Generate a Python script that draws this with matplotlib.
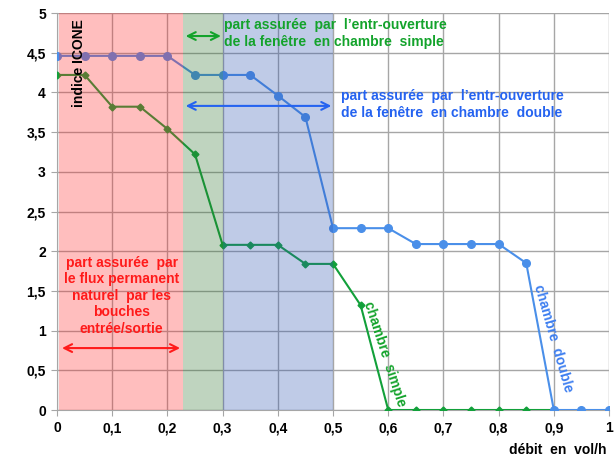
import matplotlib.pyplot as plt
import numpy as np

plt.rcParams["font.family"] = ["Liberation Sans", "DejaVu Sans"]

# débit (vol/h) and indice ICONE
debit_double = [0, 0.05, 0.1, 0.15, 0.2, 0.25, 0.3, 0.35, 0.4, 0.45, 0.5,
                0.55, 0.6, 0.65, 0.7, 0.75, 0.8, 0.85, 0.9, 0.95, 1.0]
icone_double = [4.46, 4.46, 4.46, 4.46, 4.46, 4.22, 4.22, 4.22, 3.96, 3.69, 2.29,
                2.29, 2.29, 2.09, 2.09, 2.09, 2.09, 1.85, 0, 0, 0]

debit_simple = [0, 0.05, 0.1, 0.15, 0.2, 0.25, 0.3, 0.35, 0.4, 0.45, 0.5,
                0.55, 0.6, 0.65, 0.7, 0.75, 0.8, 0.85, 0.9]
icone_simple = [4.22, 4.22, 3.82, 3.82, 3.54, 3.22, 2.08, 2.08, 2.08, 1.84, 1.84,
                1.32, 0, 0, 0, 0, 0, 0, 0]

# zones: bouches / entr-ouverture simple / entr-ouverture double
zone_bounds = [0.004, 0.228, 0.3, 0.5]
zone_colors = ["#ff2a2a", "#2d732d", "#2d55b2"]

xticks = np.arange(0, 1.01, 0.1)
yticks = np.arange(0, 5.01, 0.5)

fig = plt.figure(figsize=(6.15, 4.58), dpi=100)
ax = fig.add_axes([0.0927, 0.1048, 0.8976, 0.8668])

ax.plot(debit_simple, icone_simple, "-D", color="#12a03a", ms=3.5, lw=1.5, zorder=3)
ax.plot(debit_double, icone_double, "-o", color="#4a8fe9", ms=5.5, lw=1.5, zorder=4)

# translucent shading laid over the curves, as in the original
for i, c in enumerate(zone_colors):
    ax.axvspan(zone_bounds[i], zone_bounds[i + 1], color=c, alpha=0.3, lw=0, zorder=5)

ax.set_xlim(0, 1)
ax.set_ylim(0, 5)
ax.set_xticks(xticks)
ax.set_yticks(yticks)
ax.set_xticklabels([f"{v:g}".replace(".", ",") for v in xticks], fontsize=10, fontweight="bold")
ax.set_yticklabels([f"{v:g}".replace(".", ",") for v in yticks], fontsize=10, fontweight="bold")
ax.grid(True, color="#a6a6a6", lw=1, zorder=0)
ax.set_axisbelow(True)
ax.tick_params(length=4, color="#a6a6a6", pad=4)
ax.spines[["top", "right"]].set_visible(False)
for s in ["left", "bottom"]:
    ax.spines[s].set_color("#a6a6a6")

ax.text(0.04, 4.37, "indice ICONE", rotation=90, ha="center", va="center",
        fontsize=10, fontweight="bold", zorder=6)
ax.text(0.995, -0.51, "débit  en  vol/h", ha="right", va="center",
        fontsize=10, fontweight="bold", clip_on=False)

arrow = dict(arrowstyle="<->", lw=1.5, mutation_scale=14)

# green: chambre simple
green = "#13a32b"
ax.annotate("", xy=(0.228, 4.71), xytext=(0.302, 4.71),
            arrowprops=dict(arrow, color=green), zorder=6)
ax.text(0.303, 4.74, "part assurée  par  l’entr-ouverture\nde la fenêtre  en chambre  simple",
        color=green, fontsize=10, fontweight="bold", ha="left", va="center",
        linespacing=1.3, zorder=6)

# blue: chambre double
blue = "#2563f0"
ax.annotate("", xy=(0.228, 3.83), xytext=(0.502, 3.83),
            arrowprops=dict(arrow, color=blue), zorder=6)
ax.text(0.515, 3.85, "part assurée  par  l’entr-ouverture\nde la fenêtre  en chambre  double",
        color=blue, fontsize=10, fontweight="bold", ha="left", va="center",
        linespacing=1.25, zorder=6)

# red: bouches
red = "#ff1a1a"
ax.annotate("", xy=(0.004, 0.78), xytext=(0.228, 0.78),
            arrowprops=dict(arrow, color=red), zorder=6)
ax.text(0.117, 1.44, "part assurée  par\nle flux permanent\nnaturel  par les\nbouches\nentrée/sortie",
        color=red, fontsize=10, fontweight="bold", ha="center", va="center",
        linespacing=1.22, zorder=6)

ax.text(0.594, 0.70, "chambre  simple", rotation=-72, color=green, fontsize=10,
        fontweight="bold", ha="center", va="center", rotation_mode="anchor", zorder=6)
ax.text(0.899, 0.90, "chambre  double", rotation=-74, color="#3d7ef0", fontsize=10,
        fontweight="bold", ha="center", va="center", rotation_mode="anchor", zorder=6)

fig.savefig("out.png", dpi=100)
